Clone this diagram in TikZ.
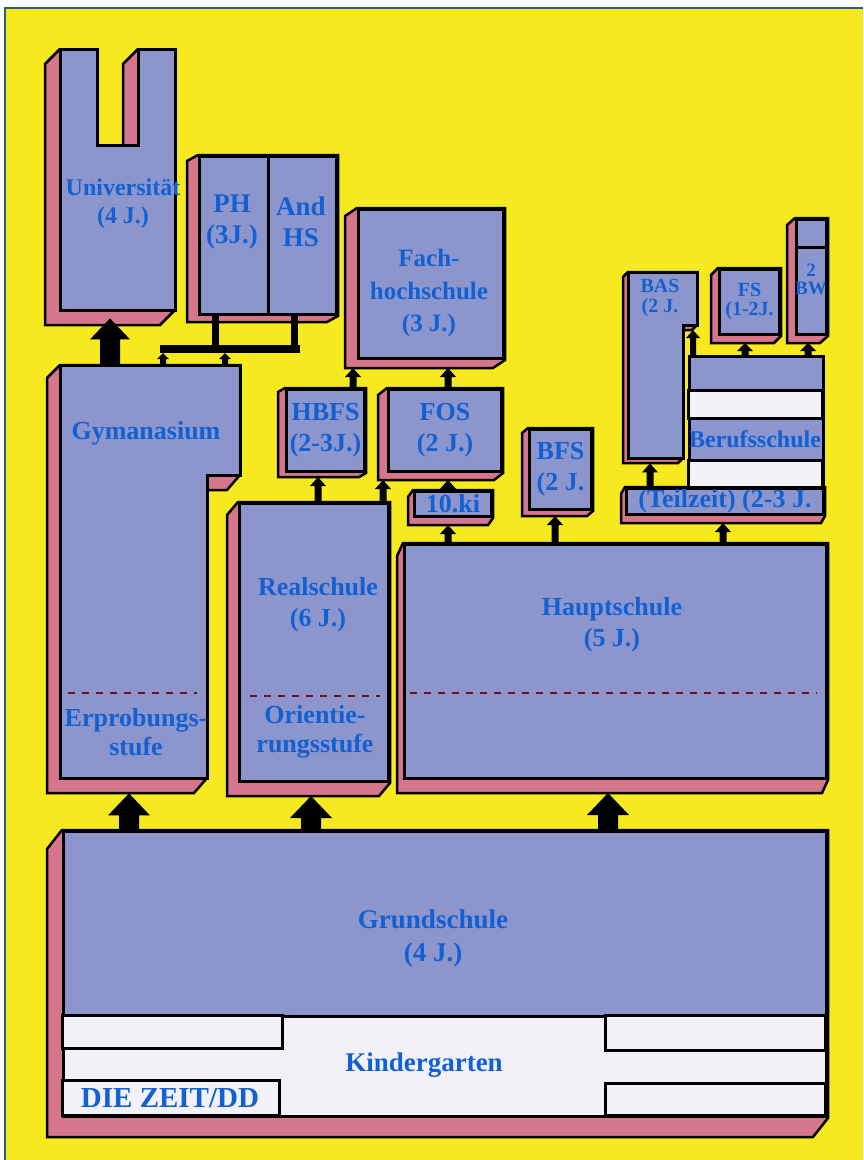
\documentclass[tikz,border=0pt]{standalone}
\usepackage{fontspec}
\setmainfont{Liberation Serif}
\usetikzlibrary{calc}
\definecolor{ylw}{RGB}{246,233,32}
\definecolor{boxblue}{RGB}{140,150,204}
\definecolor{shpink}{RGB}{214,118,140}
\definecolor{txtblue}{RGB}{18,96,210}
\definecolor{kwhite}{RGB}{241,241,247}
\definecolor{dashred}{RGB}{115,15,25}
\definecolor{frameteal}{RGB}{40,100,100}
\pgfdeclarelayer{bgl}
\pgfdeclarelayer{shl}
\pgfsetlayers{bgl,shl,main}
\tikzset{
  front/.style={fill=boxblue, draw=black, line width=3pt},
  shad/.style={fill=shpink, draw=black, line width=2.5pt},
  box/.style={front, anchor=north west, inner sep=0pt, align=center, text=txtblue, font=\bfseries\fontsize{26}{31}\selectfont},
  area/.style={anchor=north west, inner sep=0pt, draw=none},
  lbl/.style={inner sep=0pt, align=center, text=txtblue, font=\bfseries\fontsize{26}{31}\selectfont},
  smalltxt/.style={font=\bfseries\fontsize{20}{19}\selectfont},
  dashsep/.style={draw=dashred, line width=2pt, dash pattern=on 7pt off 7pt},
  wbox/.style={fill=kwhite, draw=black, line width=3pt},
  barline/.style={draw=black, line width=7pt},
}
\newcommand{\shbox}[3]{%
  \begin{pgfonlayer}{shl}
  \path[shad] (#1.north west) -- ++(-#2,#3) -- ($(#1.south west)+(-#2,#3)$) -- ($(#1.south east)+(-#2,#3)$) -- (#1.south east) -- (#1.north east) -- cycle;
  \end{pgfonlayer}}
\newcommand{\blkarrow}[5]{%
  \fill[black] let \p1=#1, \p2=#2 in
    (\x1-#3,\y1) -- (\x1-#3,\y2-#5) -- (\x1-#4,\y2-#5) -- (\x1,\y2) -- (\x1+#4,\y2-#5) -- (\x1+#3,\y2-#5) -- (\x1+#3,\y1) -- cycle;}
\begin{document}
\begin{tikzpicture}[x=1pt,y=-1pt]
\useasboundingbox (0,0) rectangle (863,1160);
\begin{pgfonlayer}{bgl}
\fill[white] (0,0) rectangle (863,1160);
\fill[ylw] (5,8) rectangle (863,1160);
\draw[frameteal, line width=2pt] (5,1160) -- (5,8) -- (863,8);
\end{pgfonlayer}

% ---------- Universitaet (U shape)
\node[area, minimum width=115pt, minimum height=261pt] (uni) at (60,49) {};
\fill[shpink] (60,49) -- (45,64) -- (45,325) -- (160,325) -- (175,310) -- (175,49) -- cycle;
\fill[ylw] (97,49) rectangle (138,145);
\fill[shpink] (138,49) -- (123,64) -- (123,145) -- (138,145) -- cycle;
\draw[black, line width=2.5pt] (60,49) -- (45,64) -- (45,325) -- (160,325) -- (175,310);
\draw[black, line width=2.5pt] (138,49) -- (123,64) -- (123,145);
\draw[front] (60,49) -- (97,49) -- (97,145) -- (138,145) -- (138,49) -- (175,49) -- (175,310) -- (60,310) -- cycle;
\node[lbl, font=\bfseries\fontsize{24}{28}\selectfont] (unit) at (123,204) {Universität\\(4 J.)};

% ---------- PH / And HS
\node[box, minimum width=69pt, minimum height=158pt] (ph) at (198,155) {};
\node[box, minimum width=68pt, minimum height=158pt] (andhs) at (267,155) {};
\begin{pgfonlayer}{shl}
\path[shad] (ph.north west) -- ++(-11,6) -- ($(ph.south west)+(-11,6)$) -- ($(andhs.south east)+(-11,6)$) -- (andhs.south east) -- (andhs.north east) -- cycle;
\end{pgfonlayer}
\node[lbl, font=\bfseries\fontsize{27}{31}\selectfont] (pht) at (232,222) {PH\\(3J.)};
\node[lbl, font=\bfseries\fontsize{27}{31}\selectfont] (andt) at (301,222) {And\\HS};

% ---------- Fachhochschule
\node[box, minimum width=145pt, minimum height=149pt] (fh) at (357,208) {};
\shbox{fh}{12}{8}
\node[lbl, font=\bfseries\fontsize{25}{32.5}\selectfont] (fht) at (429,293) {Fach-\\hochschule\\(3 J.)};

% ---------- Gymnasium (L shape)
\node[area, minimum width=147pt, minimum height=413pt] (gym) at (60,365) {};
\path[shad] (60,365) -- (47,378) -- (47,793) -- (194,793) -- (207,778) -- (207,490) -- (227,490) -- (240,475) -- (240,365) -- cycle;
\draw[front] (60,365) -- (240,365) -- (240,475) -- (207,475) -- (207,778) -- (60,778) -- cycle;
\node[lbl] (gymt) at (146,433) {Gymanasium};
\draw[dashsep] (68,693) -- (197,693);
\node[lbl, font=\bfseries\fontsize{26}{29}\selectfont] (erpt) at (136,732) {Erprobungs-\\stufe};

% ---------- Realschule
\node[box, minimum width=149pt, minimum height=278pt] (real) at (238,502) {};
\shbox{real}{11}{13}
\node[lbl] (realt) at (318,605) {Realschule\\(6 J.)};
\draw[dashsep] (250,696) -- (380,696);
\node[lbl, font=\bfseries\fontsize{26}{29}\selectfont] (orit) at (315,732) {Orientie-\\rungsstufe};

% ---------- HBFS, FOS, 10.ki, BFS
\node[box, minimum width=78pt, minimum height=82pt] (hbfs) at (285,388) {HBFS\\(2-3J.)};
\shbox{hbfs}{7}{4}
\node[box, minimum width=113pt, minimum height=82pt] (fos) at (387,388) {FOS\\(2 J.)};
\shbox{fos}{9}{7}
\node[box, minimum width=77pt, minimum height=25pt] (tenki) at (413,490) {10.ki};
\shbox{tenki}{5}{7}
\node[box, minimum width=62pt, minimum height=80pt] (bfs) at (528,428) {BFS\\(2 J.};
\shbox{bfs}{6}{5}

% ---------- Hauptschule
\node[box, minimum width=422pt, minimum height=234pt] (haupt) at (403,543) {};
\shbox{haupt}{6}{13}
\node[lbl] (hauptt) at (612,625) {Hauptschule\\(5 J.)};
\draw[dashsep] (410,693) -- (817,693);

% ---------- BAS (inverted L)
\node[area, minimum width=69pt, minimum height=186pt] (bas) at (628,272) {};
\path[shad] (628,272) -- (623,277) -- (623,463) -- (678,463) -- (683,458) -- (683,330) -- (692,330) -- (697,325) -- (697,272) -- cycle;
\draw[front] (628,272) -- (697,272) -- (697,325) -- (683,325) -- (683,458) -- (628,458) -- cycle;
\coordinate (basov) at (690,325);
\node[lbl, font=\bfseries\fontsize{20}{20}\selectfont] (bast) at (660,298) {BAS\\(2 J.};

% ---------- FS, 2 BW
\node[box, smalltxt, minimum width=60pt, minimum height=65pt] (fs) at (718,268) {FS\\(1-2J.};
\shbox{fs}{7}{7}
\node[box, minimum width=30pt, minimum height=115pt] (bw) at (795,218) {};
\shbox{bw}{8}{7}
\draw[black, line width=3pt] ([yshift=-29pt]bw.north west) -- ([yshift=-29pt]bw.north east);
\node[lbl, font=\bfseries\fontsize{19}{18}\selectfont] (bwt) at (811,279) {2\\BW};

% ---------- Berufsschule
\node[box, minimum width=134pt, minimum height=132pt] (beruf) at (688,355) {};
\draw[wbox] (688,390) rectangle (822,418);
\draw[wbox] (688,460) rectangle (822,487);
\node[lbl, font=\bfseries\fontsize{24}{28}\selectfont] (beruft) at (755,439) {Berufsschule};
\node[box, font=\bfseries\fontsize{26}{28}\selectfont, minimum width=197pt, minimum height=26pt] (teil) at (625,487) {(Teilzeit) (2-3 J.};
\shbox{teil}{4}{7}

% ---------- Grundschule / Kindergarten
\node[box, minimum width=763pt, minimum height=185pt] (grund) at (62,830) {};
\node[box, fill=kwhite, minimum width=763pt, minimum height=100pt] (kiga) at (62,1015) {};
\begin{pgfonlayer}{shl}
\path[shad] (grund.north west) -- ++(-15,19) -- ($(kiga.south west)+(-15,19)$) -- ($(kiga.south east)+(-15,19)$) -- (kiga.south east) -- (grund.north east) -- cycle;
\end{pgfonlayer}
\node[lbl, font=\bfseries\fontsize{27}{33}\selectfont] (grundt) at (433,938) {Grundschule\\(4 J.)};
\draw[wbox] (62,1015) rectangle (282,1048);
\draw[wbox] (605,1015) rectangle (825,1050);
\draw[wbox] (62,1080) rectangle (279,1115);
\draw[wbox] (605,1083) rectangle (825,1115);
\node[lbl, font=\bfseries\fontsize{27}{30}\selectfont] (kigat) at (424,1065) {Kindergarten};
\node[lbl, font=\bfseries\fontsize{29}{30}\selectfont] (zeit) at (170,1098) {DIE ZEIT/DD};

% ---------- big arrows
\blkarrow{([xshift=67pt]grund.north west)}{([yshift=-15pt]gym.south)}{10pt}{21pt}{22pt}
\blkarrow{([xshift=249pt]grund.north west)}{([yshift=-13pt]real.south)}{10pt}{21pt}{22pt}
\blkarrow{([xshift=546pt]grund.north west)}{([yshift=-13pt]haupt.south)}{10pt}{21pt}{22pt}
\blkarrow{([xshift=50pt]gym.north west)}{([yshift=-8pt]uni.south)}{10pt}{20pt}{21pt}

% ---------- bracket Gymnasium -> PH / And HS
\coordinate (brl) at (160,349);
\coordinate (brr) at (300,349);
\coordinate (brm1) at (215,349);
\coordinate (brm2) at (294,349);
\draw[black, line width=8pt] (brl) -- (brr);
\draw[barline] (ph.south -| brm1) -- (brm1);
\draw[barline] (andhs.south -| brm2) -- (brm2);
\blkarrow{([xshift=103pt]gym.north west)}{([yshift=-4pt]brl)}{3pt}{6pt}{6pt}
\blkarrow{([xshift=165pt]gym.north west)}{([yshift=-4pt]brl)}{3pt}{6pt}{6pt}

% ---------- small arrows
\blkarrow{([xshift=80pt]real.north west)}{([yshift=-4pt]hbfs.south)}{3.5pt}{8pt}{9pt}
\blkarrow{([xshift=145pt]real.north west)}{([yshift=-7pt]fos.south)}{3.5pt}{8pt}{9pt}
\blkarrow{([xshift=68pt]hbfs.north west)}{([yshift=-8pt]fh.south)}{3.5pt}{8pt}{9pt}
\blkarrow{([xshift=61pt]fos.north west)}{([yshift=-8pt]fh.south)}{3.5pt}{8pt}{9pt}
\blkarrow{([xshift=35pt]tenki.north west)}{([yshift=-7pt]fos.south)}{3.5pt}{8pt}{9pt}
\blkarrow{([xshift=45pt]haupt.north west)}{([yshift=-7pt]tenki.south)}{3.5pt}{8pt}{9pt}
\blkarrow{([xshift=152pt]haupt.north west)}{([yshift=-5pt]bfs.south)}{3.5pt}{8pt}{9pt}
\blkarrow{([xshift=320pt]haupt.north west)}{([yshift=-7pt]teil.south)}{3.5pt}{8pt}{9pt}
\blkarrow{([xshift=25pt]teil.north west)}{([yshift=-5pt]bas.south)}{3.5pt}{8pt}{9pt}
\blkarrow{([xshift=5pt]beruf.north west)}{([yshift=-5pt]basov)}{3pt}{7pt}{8pt}
\blkarrow{([xshift=57pt]beruf.north west)}{([yshift=-7pt]fs.south)}{3.5pt}{8pt}{8pt}
\blkarrow{([xshift=120pt]beruf.north west)}{([yshift=-7pt]bw.south)}{3.5pt}{8pt}{8pt}
\end{tikzpicture}
\end{document}
